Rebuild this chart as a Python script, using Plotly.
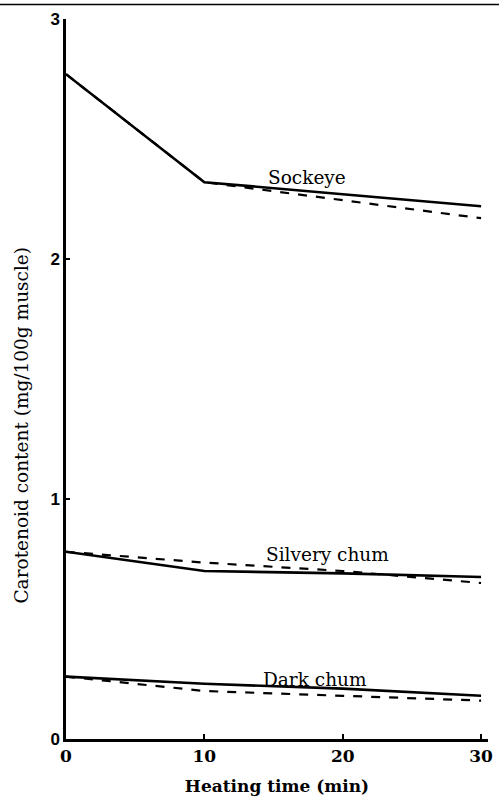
import plotly.graph_objects as go

time = [0, 10, 20, 30]
sockeye_solid = [2.77, 2.32, 2.27, 2.22]
sockeye_dash = [2.77, 2.32, 2.245, 2.17]
silvery_solid = [0.78, 0.70, 0.69, 0.675]
silvery_dash = [0.78, 0.735, 0.70, 0.65]
dark_solid = [0.26, 0.23, 0.21, 0.18]
dark_dash = [0.26, 0.20, 0.18, 0.16]

labels = ["Sockeye", "Silvery chum", "Dark chum"]
label_x = [17.4, 18.9, 18.0]
label_y = [2.34, 0.767, 0.25]

serif = "DejaVu Serif, Liberation Serif, serif"

fig = go.Figure()
for ys, dash, w in [(sockeye_solid, "solid", 2.6), (sockeye_dash, "dash", 2.2),
                    (silvery_solid, "solid", 2.6), (silvery_dash, "dash", 2.2),
                    (dark_solid, "solid", 2.6), (dark_dash, "dash", 2.2)]:
    fig.add_trace(go.Scatter(x=time, y=ys, mode="lines",
                             line=dict(color="black", width=w, dash=dash),
                             showlegend=False))

for t, xx, yy in zip(labels, label_x, label_y):
    fig.add_annotation(x=xx, y=yy, text=t, showarrow=False,
                       font=dict(family=serif, size=18.5, color="black"),
                       yanchor="middle")

# y-axis title as annotation (placed as in the original)
fig.add_annotation(xref="paper", yref="paper", x=(20 - 66) / 427, y=(739 - 425) / 720,
                   text="Carotenoid content (mg/100g muscle)", textangle=-90,
                   showarrow=False, xanchor="center", yanchor="middle",
                   font=dict(family=serif, size=18.5, color="black"))

# scan border line at top
fig.add_shape(type="line", xref="paper", yref="paper", x0=-0.2, x1=1.1, y0=1.02, y1=1.02,
              line=dict(color="black", width=1.5))

fig.update_layout(
    width=499, height=799,
    margin=dict(l=66, r=6, t=19, b=60),
    plot_bgcolor="white", paper_bgcolor="white",
    xaxis=dict(range=[0, 30.5], tickvals=[0, 10, 20, 30], ticks="inside", ticklen=5,
               tickwidth=2, tickcolor="black", showline=True, linecolor="black",
               linewidth=2.5, showgrid=False, zeroline=False,
               tickfont=dict(family=serif, size=17, color="black", weight="bold"),
               title=dict(text="Heating time (min)", standoff=15,
                          font=dict(family=serif, size=17, color="black", weight="bold"))),
    yaxis=dict(range=[0, 3], tickvals=[0, 1, 2, 3], ticks="inside", ticklen=4,
               tickwidth=2, tickcolor="black", showline=True, linecolor="black",
               linewidth=2.5, showgrid=False, zeroline=False,
               tickfont=dict(family="Liberation Sans, Arial, sans-serif", size=17,
                             color="black", weight="bold")),
)

fig.write_html("out.html")
